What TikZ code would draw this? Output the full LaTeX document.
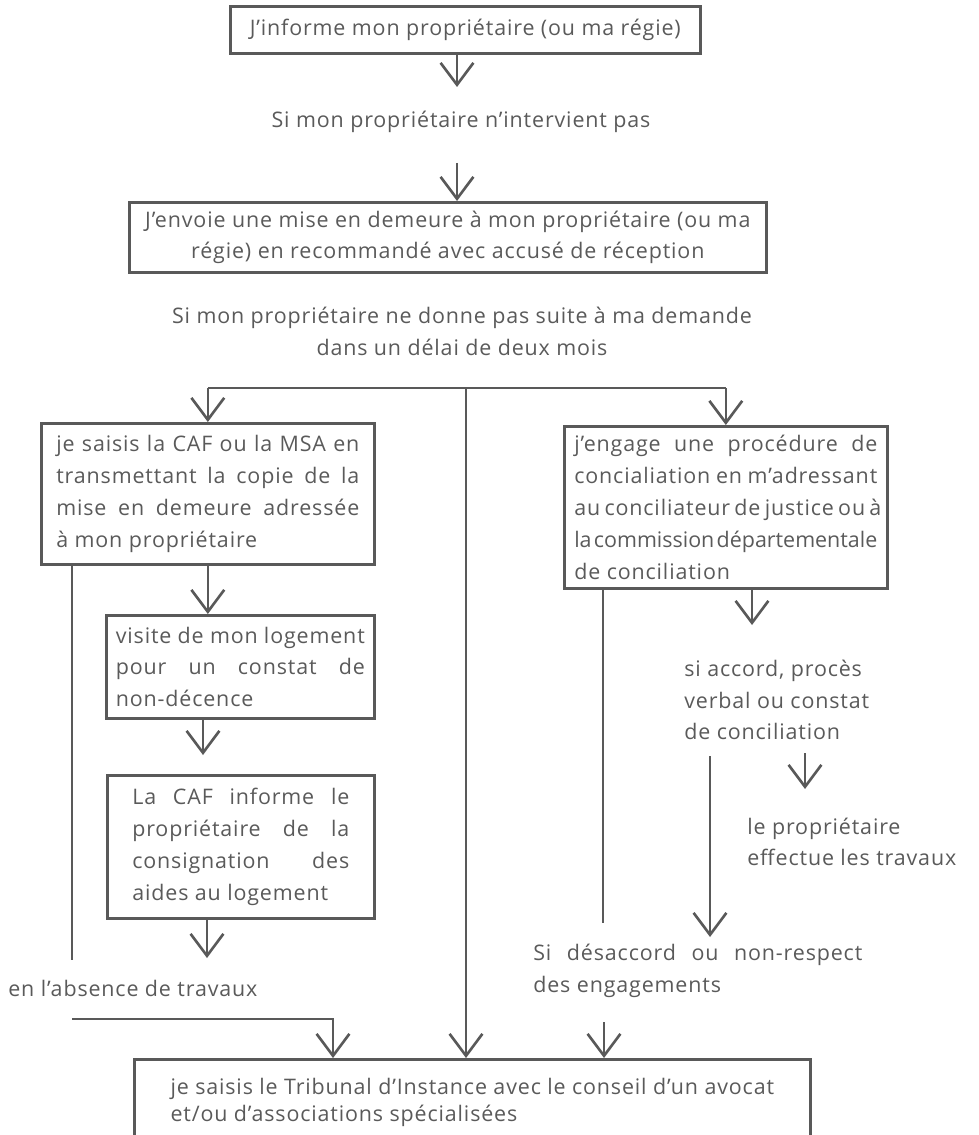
\documentclass[tikz,border=0pt]{standalone}
\usepackage{fontspec}
\setmainfont{Open Sans}[LetterSpace=4]
\usepackage{xcolor}
\usepackage{tikz}
\usetikzlibrary{arrows.meta, positioning, calc}
\definecolor{FlowGray}{HTML}{595959}
\definecolor{FlowText}{HTML}{5A5A5A}
\newdimen\pxu
\pxu=0.02cm
\hyphenpenalty=10000
\exhyphenpenalty=10000
\tolerance=9999
\emergencystretch=3em

\begin{document}
\begin{tikzpicture}[
    x=0.02cm, y=-0.02cm,
    >={Straight Barb[length=12.5pt, width=18.7pt]},
    every node/.style={inner sep=0pt, text=FlowText,
                       font=\fontsize{12.2pt}{18.1pt}\selectfont},
    box/.style={rectangle, draw=FlowGray, line width=1.5pt, anchor=north west},
    jbox/.style={box, align=justify},
    note/.style={align=center},
    arr/.style={->, draw=FlowGray, line width=1.5pt},
    line/.style={draw=FlowGray, line width=1.5pt}
]
\clip (0,0) rectangle (978,1135);

% --- Nodes --------------------------------------------------------------
\node[box, minimum width=470\pxu, minimum height=47\pxu, align=center]
      (inform) at (229,5) {J’informe mon propriétaire (ou ma régie)};
\node[note] (nointerv) at (461,122) {Si mon propriétaire n’intervient pas};
\node[box, minimum width=637\pxu, minimum height=70\pxu, align=center]
      (demeure) at (128,201)
      {J’envoie une mise en demeure à mon propriétaire (ou ma\\
       régie) en recommandé avec accusé de réception};
\node[note] (delai) at (462,331)
      {Si mon propriétaire ne donne pas suite à ma demande\\
       dans un délai de deux mois};

\node[jbox, minimum width=333\pxu, minimum height=141\pxu, text width=303\pxu]
      (caf) at (40,422)
      {je saisis la CAF ou la MSA en\linebreak
       transmettant la copie de la\linebreak
       mise en demeure adressée\linebreak
       à mon propriétaire};
\node[jbox, minimum width=268\pxu, minimum height=103\pxu, text width=249\pxu]
      (visite) at (105,614)
      {visite de mon logement\linebreak
       pour un constat de\linebreak
       non-décence};
\node[jbox, minimum width=267\pxu, minimum height=143\pxu, text width=217\pxu]
      (cafinfo) at (106,774)
      {La CAF informe le\linebreak
       propriétaire de la\linebreak
       consignation des\linebreak
       aides au logement};
\node[anchor=west] (absence) at (8,988) {en l’absence de travaux};

\node[jbox, minimum width=323\pxu, minimum height=162\pxu, text width=303\pxu]
      (conc) at (563,425)
      {j’engage une procédure de\linebreak
       concialiation en m’adressant\linebreak
       au conciliateur de justice ou à\linebreak
       \hbox to\linewidth{\addfontfeature{LetterSpace=0}%
         la\hfil commission\hfil départementale}\linebreak
       de conciliation};
\node[anchor=west, align=left] (accord) at (684,700)
      {si accord, procès\\ verbal ou constat\\ de conciliation};
\node[anchor=west, align=left,
      font=\fontsize{12.2pt}{17.6pt}\selectfont] (travaux) at (747,841.5)
      {le propriétaire\\ effectue les travaux};
\node[anchor=west, align=justify, text width=329\pxu] (desaccord) at (533,971)
      {Si désaccord ou non-respect\linebreak des engagements};

\node[box, minimum width=676\pxu, minimum height=87\pxu, inner xsep=10\pxu,
      align=left, font=\fontsize{12.2pt}{15.3pt}\selectfont]
      (trib) at (133,1058)
      {je saisis le Tribunal d’Instance avec le conseil d’un avocat\\
       et/ou d’associations spécialisées};

% --- Free ends ----------------------------------------------------------
\coordinate (split)   at (466,388);
\coordinate (tip1)    at (457,87);
\coordinate (from2)   at (457,163);
\coordinate (tip6)    at (203,755);
\coordinate (tip7)    at (207,958);
\coordinate (lowleft) at (72,1019);
\coordinate (tip9)    at (752,625);
\coordinate (from10)  at (710,756);
\coordinate (tip10)   at (710,937);
\coordinate (from11)  at (805,753);
\coordinate (tip11)   at (805,789);
\coordinate (from12)  at (604,1022);

% --- Flow ---------------------------------------------------------------
\draw[arr]  (inform.south -| tip1) -- (tip1);
\draw[arr]  (from2) -- (from2 |- demeure.north);
\draw[line] (caf.north |- split) -- (conc.north |- split);
\draw[arr]  (caf.north |- split) -- (caf.north);
\draw[arr]  (conc.north |- split) -- (conc.north);
\draw[arr]  (split) -- (split |- trib.north);

% left branch
\draw[arr]  (caf.south) -- (caf.south |- visite.north);
\draw[arr]  (visite.south -| tip6) -- (tip6);
\draw[arr]  (cafinfo.south -| tip7) -- (tip7);
\draw[line] ([xshift=32\pxu]caf.south west) -- ++(0,394);
\draw[arr]  (lowleft) -| ([xshift=200\pxu]trib.north west);

% right branch
\draw[arr]  (conc.south -| tip9) -- (tip9);
\draw[line] ([xshift=40\pxu]conc.south west) -- ++(0,333);
\draw[arr]  (from10) -- (tip10);
\draw[arr]  (from11) -- (tip11);
\draw[arr]  (from12) -- (from12 |- trib.north);

\end{tikzpicture}
\end{document}
